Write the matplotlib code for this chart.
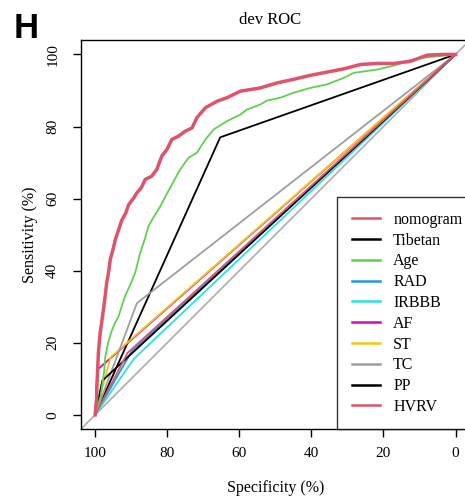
import numpy as np
import matplotlib
matplotlib.use("Agg")
import matplotlib.pyplot as plt

# ROC curves (specificity %, sensitivity %)
nomo_spec = [100, 99.6, 99.5, 99.1, 98.6, 98.2, 97.7, 97.2, 96.8, 96.2, 95.8, 95.0, 94.4, 93.6,
             92.6, 91.5, 90.7, 89.4, 88.4, 87.2, 86.1, 84.3, 82.9, 81.5, 80.1, 78.7, 76.9, 75.0,
             73.1, 71.8, 69.4, 66.2, 63.4, 59.7, 54.2, 49.5, 44.9, 40.3, 35.6, 31.0, 26.4, 21.8,
             17.1, 12.5, 7.9, 3.2, 0]
nomo_sens = [0, 4.0, 7.9, 17.1, 22.7, 25.5, 29.2, 33.0, 36.6, 40.0, 43.1, 46.0, 48.6, 51.0,
             54.0, 56.0, 58.3, 60.0, 61.6, 63.0, 65.3, 66.2, 68.1, 71.8, 73.6, 76.4, 77.3, 78.7,
             79.6, 82.4, 85.2, 87.0, 88.0, 89.8, 90.7, 92.1, 93.1, 94.2, 95.1, 96.0, 97.2, 97.5,
             97.5, 98.1, 99.8, 100, 100]

age_spec = [100, 98.5, 97.5, 97.2, 96.4, 95.5, 94.5, 93.5, 92.5, 91.7, 90.3, 88.9, 87.5, 86.3,
            85.2, 84.0, 81.9, 79.2, 76.4, 74.1, 71.8, 69.4, 67.1, 63.4, 59.7, 57.9, 54.2, 52.3,
            48.6, 44.9, 40.3, 35.6, 31.0, 28.2, 21.8, 17.1, 12.5, 7.9, 0]
age_sens = [0, 5.0, 12.0, 16.0, 20.0, 23.0, 25.5, 27.3, 30.5, 32.9, 36.0, 39.4, 44.9, 48.5,
            52.3, 54.5, 57.9, 63.0, 68.1, 71.3, 72.7, 76.4, 79.2, 81.5, 83.3, 84.7, 86.1, 87.2,
            88.0, 89.4, 90.7, 91.7, 93.5, 94.9, 95.8, 96.9, 98.4, 99.2, 100]

# binary predictors: single operating point each
binary_names = ["Tibetan", "RAD", "IRBBB", "AF", "ST", "TC", "PP", "HVRV"]
binary_spec = [65.3, 89.9, 89.3, 99.4, 95.7, 88.4, 98.0, 91.0]
binary_sens = [77.0, 17.6, 15.5, 12.5, 16.0, 31.0, 9.5, 17.2]

legend_order = ["nomogram", "Tibetan", "Age", "RAD", "IRBBB", "AF", "ST", "TC", "PP", "HVRV"]
colors = {"nomogram": "#DF536B", "Tibetan": "black", "Age": "#61D04F", "RAD": "#2297E6",
          "IRBBB": "#28E2E5", "AF": "#CD0BBC", "ST": "#F5C710", "TC": "#9E9E9E",
          "PP": "black", "HVRV": "#DF536B"}

plt.rcParams['font.family'] = ['Liberation Serif', 'DejaVu Serif']
plt.rcParams['font.size'] = 11

fig = plt.figure(figsize=(4.65, 4.98), dpi=100)
ax = fig.add_axes([80.7/465, (498-429.3)/498, 389.3/465, 389.3/498])

# identity line
ax.plot([104, -4], [-4, 104], color="#A9A9A9", lw=1.1, zorder=1)

lines = {}
lines["nomogram"], = ax.plot(nomo_spec, nomo_sens, color=colors["nomogram"], lw=2.5, zorder=5)
lines["Age"], = ax.plot(age_spec, age_sens, color=colors["Age"], lw=1.3, zorder=4)
for name, sp, se in zip(binary_names, binary_spec, binary_sens):
    lines[name], = ax.plot([100, sp, 0], [0, se, 100], color=colors[name], lw=1.3, zorder=3)

handles = [plt.Line2D([], [], color=colors[n], lw=1.8) for n in legend_order]
leg = ax.legend(handles, legend_order, loc="lower left", bbox_to_anchor=(0.659, 0),
                borderaxespad=0, fancybox=False, frameon=True, edgecolor="black",
                borderpad=0.9, labelspacing=0.30, handlelength=1.75, handletextpad=0.85,
                fontsize=11.5)
leg.get_frame().set_linewidth(1.0)
leg.set_zorder(10)

ax.set_xlim(104, -4)
ax.set_ylim(-4, 104)
ax.set_xticks([100, 80, 60, 40, 20, 0])
ax.set_yticks([0, 20, 40, 60, 80, 100])
ax.tick_params(axis='both', direction='out', length=6, width=1, labelsize=11)
ax.tick_params(axis='x', pad=6.5)
ax.tick_params(axis='y', pad=9.5, labelrotation=90)
for lab in ax.get_yticklabels():
    lab.set_va('center')
for sp in ax.spines.values():
    sp.set_linewidth(1.0)

ax.set_xlabel("Specificity (%)", fontsize=11.5, labelpad=15)
ax.set_ylabel("Sensitivity (%)", fontsize=11.5, labelpad=6)

fig.text(270/465, 1 - 20/498, "dev ROC", ha="center", va="center", fontsize=12)
fig.text(14/465, 1 - 28/498, "H", ha="left", va="center", fontsize=25,
         fontweight="bold", family="Liberation Sans")

fig.savefig("out.png", dpi=100)
